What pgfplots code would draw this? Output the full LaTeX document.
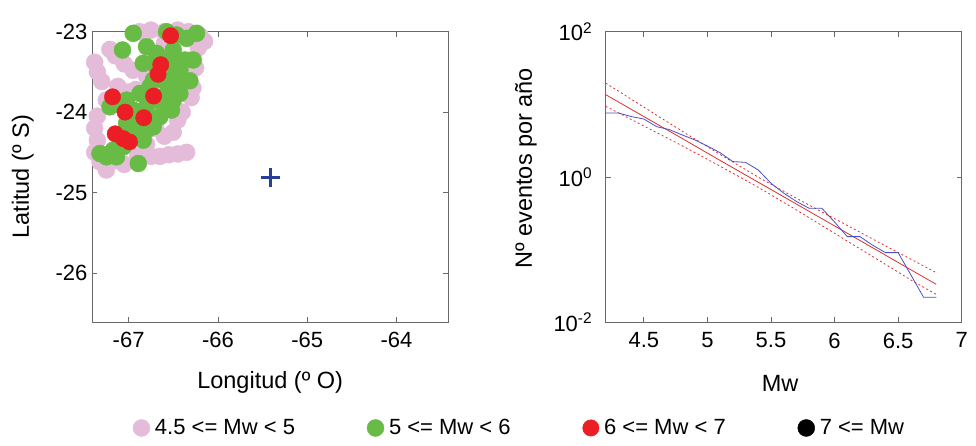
\documentclass[border=0pt]{standalone}
\usepackage{pgfplots}
\pgfplotsset{compat=1.18}
\usepackage{fontspec}
\setmainfont{Liberation Sans}
\definecolor{pinkc}{RGB}{228,188,218}
\definecolor{greenc}{RGB}{104,188,70}
\definecolor{redc}{RGB}{234,30,36}
\definecolor{plusc}{RGB}{40,62,150}
\definecolor{bluel}{RGB}{70,80,200}
\definecolor{redl}{RGB}{225,45,45}
\definecolor{axc}{RGB}{105,105,105}
\newcommand{\tickfont}{\fontsize{22}{25}\selectfont}
\newcommand{\labfont}{\fontsize{23.5}{27}\selectfont}
\begin{document}
\begin{tikzpicture}
\useasboundingbox (0,0) rectangle (976pt,446pt);
\pgfplotsset{every axis/.append style={
  scale only axis,
  tick align=inside, xtick pos=both, ytick pos=both,
  axis line style={axc, line width=0.8pt},
  every tick/.style={axc, line width=0.8pt},
  major tick length=5pt,
  tick label style={black, font=\tickfont},
  label style={black, font=\labfont},
  xticklabel style={yshift=-7pt},
}}
% ---------------- left: epicentre map ----------------
\begin{axis}[
  at={(92pt,124pt)}, anchor=south west,
  width=356.3pt, height=290.3pt,
  xmin=-67.41, xmax=-63.42, ymin=-26.61, ymax=-23,
  xtick={-67,-66,-65,-64}, xticklabels={-67,-66,-65,-64},
  ytick={-26,-25,-24,-23}, yticklabels={-26,-25,-24,-23},
  yticklabel style={xshift=-1pt},
  xlabel={Longitud (º O)}, ylabel={Latitud (º S)},
  xlabel style={at={(axis description cs:0.5,-0.207)}, anchor=center},
  ylabel style={at={(axis description cs:-0.194,0.5)}, anchor=center},
  clip=false,
  legend columns=4,
  legend style={at={(axis description cs:1.2,-0.365)}, anchor=center,
    draw=none, fill=none, font=\tickfont,
    /tikz/every odd column/.append style={column sep=3pt},
    /tikz/every even column/.append style={column sep=70pt}},
  legend cell align=left,
]
\addplot[only marks, mark=*, mark size=8.5pt, color=pinkc, mark options={draw=pinkc, fill=pinkc}] coordinates {
(-67.38,-23.38) (-67.35,-23.50) (-67.30,-23.62) (-67.21,-23.22) (-67.15,-23.30) (-67.05,-23.40) (-66.95,-23.48)
(-66.88,-23.00) (-66.75,-22.98) (-66.60,-23.00) (-66.45,-22.98) (-66.33,-23.00) (-66.20,-23.05) (-66.15,-23.12) (-66.22,-23.20)
(-67.12,-23.68) (-67.00,-23.75) (-66.92,-23.72) (-67.25,-23.85)
(-67.35,-24.05) (-67.38,-24.20) (-67.35,-24.35) (-67.38,-24.50) (-67.32,-24.62) (-67.25,-24.72) (-67.15,-24.60)
(-66.75,-24.55) (-66.65,-24.55) (-66.55,-24.53) (-66.45,-24.52) (-66.35,-24.50)
(-66.50,-24.25) (-66.45,-24.10) (-66.40,-24.00) (-66.30,-23.82) (-66.28,-23.70) (-66.25,-23.45) (-66.30,-23.35)
(-66.80,-24.40) (-66.90,-24.55) (-67.05,-24.65) (-66.60,-24.30) (-66.70,-24.20) (-66.55,-23.90) (-66.80,-23.55)
(-66.70,-23.30) (-66.60,-23.15) (-66.50,-23.60)
};
\addlegendentry{4.5 <= Mw < 5}
\addplot[only marks, mark=*, mark size=8.5pt, color=greenc, mark options={draw=greenc, fill=greenc}] coordinates {
(-66.948,-23.020) (-66.575,-23.000) (-66.463,-23.041) (-66.239,-23.020) (-66.351,-23.083)
(-67.068,-23.228) (-66.799,-23.186) (-66.687,-23.269) (-66.500,-23.228) (-66.370,-23.352)
(-66.276,-23.352) (-66.836,-23.394) (-66.687,-23.435) (-66.538,-23.477) (-66.426,-23.477)
(-66.314,-23.610) (-66.724,-23.601) (-66.575,-23.643) (-66.463,-23.685) (-66.500,-23.851)
(-66.426,-23.768) (-66.873,-23.768) (-66.687,-23.851) (-66.575,-23.934) (-66.799,-23.934)
(-66.519,-23.975) (-66.650,-24.058) (-66.724,-24.183) (-67.209,-23.934) (-67.135,-23.892)
(-67.023,-23.851) (-66.948,-23.975) (-67.023,-24.141) (-66.911,-24.141) (-66.799,-24.224)
(-66.948,-24.266) (-66.836,-24.349) (-67.321,-24.515) (-67.172,-24.473) (-67.060,-24.432)
(-66.892,-24.639) (-67.135,-24.556) (-67.247,-24.556) (-66.724,-24.100) (-66.612,-23.809)
(-66.463,-23.560) (-66.538,-23.352) (-66.761,-23.685)
};
\addlegendentry{5 <= Mw < 6}
\addplot[only marks, mark=*, mark size=8.2pt, color=redc, mark options={draw=redc, fill=redc}] coordinates {
(-66.53,-23.05) (-66.64,-23.41) (-66.67,-23.53) (-66.72,-23.80) (-67.18,-23.81)
(-67.04,-24.00) (-66.83,-24.07) (-67.15,-24.27) (-67.06,-24.33) (-66.99,-24.37)
};
\addlegendentry{6 <= Mw < 7}
\addlegendimage{only marks, mark=*, mark size=8.5pt, color=black}
\addlegendentry{7 <= Mw}
\addplot[only marks, mark=+, mark size=9.5pt, line width=2.6pt, color=plusc, forget plot] coordinates {(-65.41,-24.81)};
\end{axis}
% ---------------- right: frequency-magnitude ----------------
\begin{axis}[
  at={(605.7pt,123.7pt)}, anchor=south west,
  width=356pt, height=290.6pt,
  ymode=log, log basis y=10,
  xmin=4.2, xmax=7, ymin=0.01, ymax=100,
  xtick={4.5,5,5.5,6,6.5,7}, xticklabels={4.5,5,5.5,6,6.5,7},
  ytick={0.01,1,100}, yticklabels={10\textsuperscript{-2},10\textsuperscript{0},10\textsuperscript{2}},
  yminorticks=false,
  yticklabel style={xshift=-10pt},
  xlabel={Mw}, ylabel={Nº eventos por año},
  xlabel style={at={(axis description cs:0.49,-0.209)}, anchor=center},
  ylabel style={at={(axis description cs:-0.224,0.53)}, anchor=center},
]
\addplot[color=redl, line width=0.8pt, dash pattern=on 2pt off 2.5pt] coordinates {
(4.2,19.6) (4.5,9.16) (4.8,4.28) (5.1,2.04) (5.4,0.995) (5.7,0.509) (6.0,0.267) (6.3,0.140) (6.6,0.0738) (6.8,0.0482)
};
\addplot[color=redl, line width=0.8pt, dash pattern=on 2pt off 2.5pt] coordinates {
(4.2,9.40) (4.5,5.04) (4.8,2.70) (5.1,1.41) (5.4,0.721) (5.7,0.352) (6.0,0.168) (6.3,0.0804) (6.6,0.0383) (6.8,0.0242)
};
\addplot[color=redl, line width=0.8pt] coordinates {
(4.2,13.6) (4.5,6.79) (4.8,3.40) (5.1,1.69) (5.4,0.847) (5.7,0.424) (6.0,0.212) (6.3,0.106) (6.6,0.0528) (6.8,0.0333)
};
\addplot[color=bluel, line width=0.8pt] coordinates {
(4.2,7.6) (4.3,7.6) (4.4,6.8) (4.5,6.28) (4.6,4.93) (4.7,4.5) (4.8,3.8) (4.9,3.25) (5.0,2.67)
(5.1,2.16) (5.2,1.63) (5.3,1.59) (5.4,1.25) (5.5,0.82) (5.6,0.60) (5.7,0.46) (5.8,0.371)
(5.9,0.371) (6.0,0.24) (6.1,0.151) (6.2,0.151) (6.3,0.115) (6.4,0.091) (6.5,0.091) (6.6,0.045)
(6.7,0.0221) (6.8,0.0221)
};
\end{axis}
\end{tikzpicture}
\end{document}
